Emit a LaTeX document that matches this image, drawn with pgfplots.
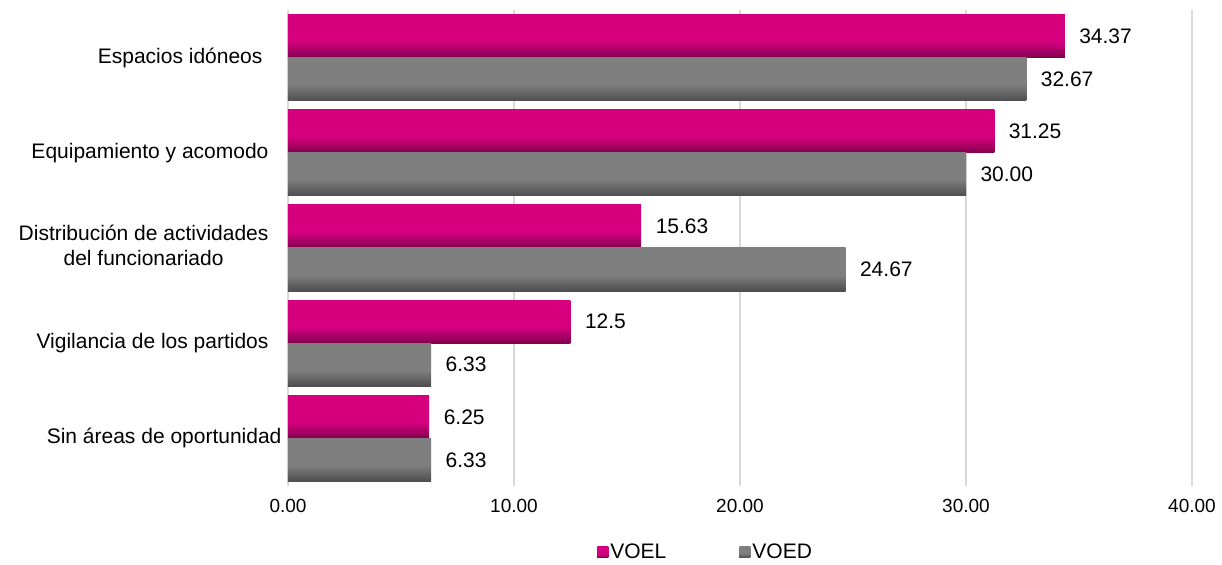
\documentclass[border=0pt]{standalone}
\usepackage{fontspec}
\setmainfont{Liberation Sans}
\usepackage{pgfplots}
\pgfplotsset{compat=1.18}
\definecolor{pinkA}{RGB}{214,0,127}
\definecolor{pinkB}{RGB}{130,0,78}
\definecolor{grayA}{RGB}{127,127,127}
\definecolor{grayB}{RGB}{78,78,78}
\definecolor{legpink}{RGB}{153,0,94}
\definecolor{leggray}{RGB}{89,89,89}
\definecolor{gridc}{RGB}{217,217,217}
\pgfdeclareverticalshading{pinkbar}{100bp}{color(0bp)=(pinkB); color(25bp)=(pinkB); color(44bp)=(pinkA); color(100bp)=(pinkA)}
\pgfdeclareverticalshading{graybar}{100bp}{color(0bp)=(grayB); color(25bp)=(grayB); color(44bp)=(grayA); color(100bp)=(grayA)}
\pgfplotsset{
  voel/.style={draw=none, shade, shading=pinkbar, bar shift=0.226,
    legend image code/.code={\fill[legpink] (0bp,-5.5bp) rectangle (11bp,5.5bp);}},
  voed/.style={draw=none, shade, shading=graybar, bar shift=-0.226,
    legend image code/.code={\fill[leggray] (0bp,-5.5bp) rectangle (11bp,5.5bp);}},
}
\begin{document}
\begin{tikzpicture}
\begin{axis}[
  at={(0,0)}, anchor=south west,
  width=904bp, height=476bp, scale only axis,
  xbar, bar width=0.452,
  xmin=0, xmax=40, ymin=-0.5, ymax=4.5,
  xtick={0,10,20,30,40},
  xticklabel={\pgfmathprintnumber[fixed,fixed zerofill,precision=2,assume math mode=true]{\tick}},
  xticklabel style={font=\fontsize{19bp}{23bp}\selectfont, yshift=-10bp},
  ytick={0,1,2,3,4},
  yticklabels={Sin áreas de oportunidad\kern-13bp, Vigilancia de los partidos, {\begin{tabular}{@{}c@{}}Distribución de actividades\\del funcionariado\end{tabular}}, Equipamiento y acomodo, Espacios idóneos\kern6bp},
  yticklabel style={font=\fontsize{21bp}{25bp}\selectfont, xshift=-16bp},
  major tick length=0,
  axis line style={draw=none},
  xmajorgrids, major grid style={gridc, line width=1.3bp},
  point meta=explicit symbolic,
  nodes near coords,
  every node near coord/.append style={font=\fontsize{21bp}{25bp}\selectfont, xshift=11bp, text=black, anchor=west},
  legend columns=2,
  legend style={at={(0.462,-0.139)}, anchor=center, draw=none, font=\fontsize{21bp}{25bp}\selectfont,
    nodes={inner sep=2bp}, /tikz/every even column/.append style={column sep=71bp}},
  legend cell align=left,
]
% VOEL
\addplot[voel] coordinates {(34.37,4) [34.37]};
\addlegendentry{VOEL}
% VOED
\addplot[voed] coordinates {(32.67,4) [32.67]};
\addlegendentry{VOED}
\addplot[voel, forget plot] coordinates {(31.25,3) [31.25]};
\addplot[voel, forget plot] coordinates {(15.63,2) [15.63]};
\addplot[voel, forget plot] coordinates {(12.5,1) [12.5]};
\addplot[voel, forget plot] coordinates {(6.25,0) [6.25]};
\addplot[voed, forget plot] coordinates {(30.00,3) [30.00]};
\addplot[voed, forget plot] coordinates {(24.67,2) [24.67]};
\addplot[voed, forget plot] coordinates {(6.33,1) [6.33]};
\addplot[voed, forget plot] coordinates {(6.33,0) [6.33]};
\end{axis}
\path (-288bp,-75bp) rectangle (934bp,486bp);
\end{tikzpicture}
\end{document}
